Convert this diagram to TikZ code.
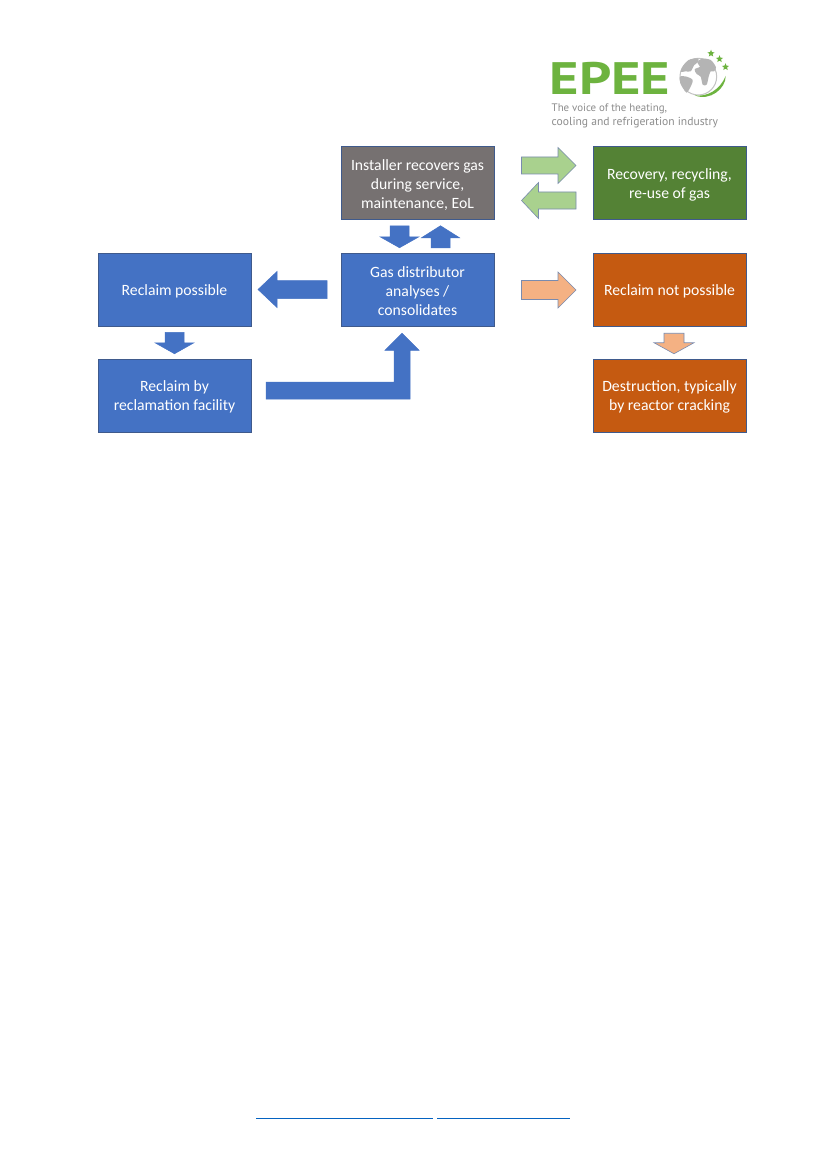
\documentclass[tikz,border=0pt]{standalone}
\usepackage{fontspec}
\setmainfont{Carlito}
\newfontfamily\logofont{PT Sans}
\usetikzlibrary{calc,shapes.geometric}
\definecolor{cblue}{HTML}{4472C4}
\definecolor{cblueline}{HTML}{3F5A8C}
\definecolor{cgray}{HTML}{767171}
\definecolor{cgreen}{HTML}{548235}
\definecolor{corange}{HTML}{C55A11}
\definecolor{clgreen}{HTML}{A9D18E}
\definecolor{clorange}{HTML}{F4B183}
\definecolor{clogo}{HTML}{6DB33F}
\definecolor{cglobe}{HTML}{B4B4B4}
\definecolor{clink}{HTML}{0563C1}
\tikzset{
  box/.style={draw=cblueline,line width=.5,minimum width=152.5,minimum height=73,inner sep=0,
    align=center,text=white,font=\fontsize{15.7}{19}\selectfont},
  bluebox/.style={box,fill=cblue},
  graybox/.style={box,fill=cgray},
  greenbox/.style={box,fill=cgreen},
  orangebox/.style={box,fill=corange},
  bluearrow/.style={fill=cblue,draw=cblue,line width=.5,line join=miter},
  greenarrow/.style={fill=clgreen,draw=cblueline!70,line width=.6,line join=miter},
  orangearrow/.style={fill=clorange,draw=cblueline!70,line width=.6,line join=miter},
  logotext/.style={inner sep=0,anchor=base west,text=black!45},
  logostar/.style={star,star points=5,star point ratio=2.3,fill=clogo,inner sep=0,minimum size=7.5},
  linkline/.style={draw=clink,line width=1},
  land/.style={fill=cglobe,draw=none}
}
\newcommand{\boxtext}[1]{\parbox{150pt}{\centering\vspace*{3.4pt}#1}}
% style, start, end, half body, half head, head length
\newcommand{\blockarrow}[6]{%
  \coordinate (S) at #2; \coordinate (E) at #3;
  \coordinate (B) at ($(E)!#6pt!(S)$);
  \draw[#1] ($(S)!#4pt!90:(E)$) -- ($(B)!#4pt!90:(E)$) -- ($(B)!#5pt!90:(E)$) -- (E)
    -- ($(B)!#5pt!-90:(E)$) -- ($(B)!#4pt!-90:(E)$) -- ($(S)!#4pt!-90:(E)$) -- cycle;
}
\begin{document}
\begin{tikzpicture}[x=1pt,y=-1pt]
\useasboundingbox (0,0) rectangle (827,1169);
\fill[white] (0,0) rectangle (827,1169);

% boxes
\node[graybox]   (inst) at (417.5,183)   {\boxtext{Installer recovers gas\\during service,\\maintenance, EoL}};
\node[greenbox]  (rec)  at (669.5,183)   {\boxtext{Recovery, recycling,\\re-use of gas}};
\node[bluebox]   (gas)  at (417.5,289.5) {\boxtext{Gas distributor\\analyses /\\consolidates}};
\node[orangebox] (nopo) at (669.5,289.5) {\boxtext{Reclaim not possible}};
\node[bluebox]   (poss) at (174.5,289.5) {\boxtext{Reclaim possible}};
\node[bluebox]   (by)   at (174.5,395.5) {\boxtext{Reclaim by\\reclamation facility}};
\node[orangebox] (dest) at (669.5,395.5) {\boxtext{Destruction, typically\\by reactor cracking}};

% block arrows
\blockarrow{greenarrow}{($(inst.east)+(27.5,-17.5)$)}{($(rec.west)+(-17,-17.5)$)}{8.5}{18}{18}
\blockarrow{greenarrow}{($(rec.west)+(-17,17.5)$)}{($(inst.east)+(27.5,17.5)$)}{8.5}{18}{17}
\blockarrow{bluearrow}{($(inst.south)+(-18,6)$)}{($(gas.north)+(-18,-5)$)}{9.5}{19.5}{11}
\blockarrow{bluearrow}{($(gas.north)+(23,-5)$)}{($(inst.south)+(23,6)$)}{9.5}{19}{12}
\blockarrow{bluearrow}{($(gas.west)+(-14,0)$)}{($(poss.east)+(7,0)$)}{9}{18}{19}
\blockarrow{orangearrow}{($(gas.east)+(27.5,0.5)$)}{($(nopo.west)+(-17,0.5)$)}{9.5}{18}{18}
\blockarrow{bluearrow}{($(poss.south)+(0,6)$)}{($(by.north)+(0,-5)$)}{9.5}{19.5}{11}
\blockarrow{orangearrow}{($(nopo.south)+(4.5,7)$)}{($(dest.north)+(4.5,-5)$)}{10}{20}{11}

% bent arrow
\coordinate (bt) at ($(by.east)+(15,-5)$);
\coordinate (tip) at ($(gas.south)+(-15.5,7)$);
\draw[bluearrow] ($(bt)+(0,-8.5)$) -| ($(tip)+(-8,17)$) -- ++(-9,0) -- (tip) -- ++(17,17)
  -- ++(-9,0) |- ($(bt)+(0,8.5)$) -- cycle;

% logo
\node[inner sep=0,anchor=base west,text=clogo,font=\logofont\bfseries\fontsize{45.5}{45.5}\selectfont,xscale=1.24] (epee) at (549.5,95) {EPEE};
\node[logotext,font=\logofont\fontsize{10.9}{12}\selectfont] (tag1) at (551.5,112) {The voice of the heating,};
\node[logotext,font=\logofont\fontsize{11.6}{12}\selectfont] (tag2) at (551.5,126) {cooling and refrigeration industry};
\node[logostar] (st1) at (711,53.5) {};
\node[logostar] (st2) at (719.5,59) {};
\node[logostar] (st3) at (725.5,67) {};
\begin{scope}[shift={(670,40)},x=0.3333pt,y=-0.3333pt]
  \draw[cglobe!80,line width=1] (85,110) circle (55);
  \fill[land] plot[smooth cycle] coordinates {(38,80)(56,60)(84,55)(84,66)(72,76)(62,94)(46,94)(32,96)};
  \fill[land] plot[smooth cycle] coordinates {(82,68)(95,56)(122,60)(138,82)(132,94)(122,94)(116,110)(110,134)(98,134)(92,110)(80,102)(74,88)(90,80)};
  \fill[land] plot[smooth cycle] coordinates {(30,110)(50,110)(68,120)(62,140)(50,158)(40,146)(31,130)};
  \fill[clogo] (74,166) .. controls (110,172) and (150,150) .. (167,108)
     .. controls (168,145) and (120,185) .. (74,166) -- cycle;
\end{scope}

% footer link underlines
\coordinate (l1a) at (256,1118); \coordinate (l1b) at (433,1118);
\coordinate (l2a) at (437,1118); \coordinate (l2b) at (570,1118);
\draw[linkline] (l1a) -- (l1b);
\draw[linkline] (l2a) -- (l2b);
\end{tikzpicture}
\end{document}
